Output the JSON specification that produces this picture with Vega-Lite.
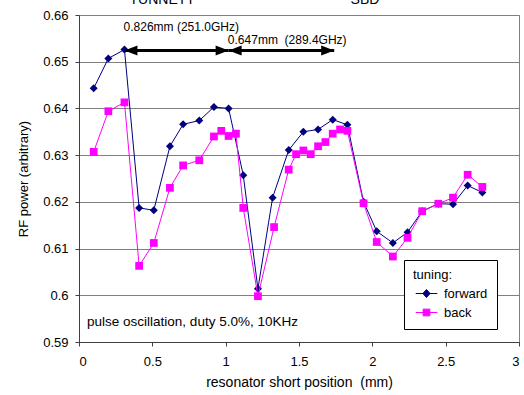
{
  "$schema": "https://vega.github.io/schema/vega-lite/v6.json",
  "autosize": "none",
  "width": 440,
  "height": 327,
  "padding": {"left": 79, "top": 15, "right": 5, "bottom": 53},
  "background": "white",
  "config": {
    "font": "Liberation Sans",
    "view": {"stroke": "#808080", "strokeWidth": 1},
    "axis": {
      "labelFont": "Liberation Sans",
      "titleFont": "Liberation Sans",
      "labelFontSize": 13,
      "titleFontSize": 13,
      "titleFontWeight": "normal",
      "labelColor": "black",
      "titleColor": "black",
      "domainColor": "#404040",
      "tickColor": "#404040",
      "tickSize": 4,
      "gridColor": "#808080",
      "gridWidth": 1,
      "gridOpacity": 1
    },
    "legend": {
      "labelFont": "Liberation Sans",
      "titleFont": "Liberation Sans",
      "title": "tuning:",
      "orient": "none",
      "legendX": 325,
      "legendY": 245,
      "padding": 9,
      "strokeColor": "black",
      "fillColor": "white",
      "titleFontSize": 13,
      "titleFontWeight": "normal",
      "titleColor": "black",
      "titlePadding": 3,
      "labelFontSize": 13,
      "labelColor": "black",
      "labelOffset": 9,
      "symbolSize": 256,
      "symbolStrokeWidth": 1,
      "symbolOffset": 5,
      "rowPadding": 3
    }
  },
  "datasets": {
    "runs": [
      {"pos": 0.10, "power": 0.6443, "tuning": "forward"},
      {"pos": 0.20, "power": 0.6507, "tuning": "forward"},
      {"pos": 0.31, "power": 0.6526, "tuning": "forward"},
      {"pos": 0.41, "power": 0.6187, "tuning": "forward"},
      {"pos": 0.51, "power": 0.6182, "tuning": "forward"},
      {"pos": 0.62, "power": 0.6319, "tuning": "forward"},
      {"pos": 0.71, "power": 0.6366, "tuning": "forward"},
      {"pos": 0.82, "power": 0.6374, "tuning": "forward"},
      {"pos": 0.92, "power": 0.6403, "tuning": "forward"},
      {"pos": 1.02, "power": 0.6400, "tuning": "forward"},
      {"pos": 1.12, "power": 0.6257, "tuning": "forward"},
      {"pos": 1.22, "power": 0.6014, "tuning": "forward"},
      {"pos": 1.32, "power": 0.6209, "tuning": "forward"},
      {"pos": 1.43, "power": 0.6311, "tuning": "forward"},
      {"pos": 1.53, "power": 0.6350, "tuning": "forward"},
      {"pos": 1.63, "power": 0.6355, "tuning": "forward"},
      {"pos": 1.73, "power": 0.6376, "tuning": "forward"},
      {"pos": 1.83, "power": 0.6365, "tuning": "forward"},
      {"pos": 1.94, "power": 0.6200, "tuning": "forward"},
      {"pos": 2.03, "power": 0.6137, "tuning": "forward"},
      {"pos": 2.14, "power": 0.6112, "tuning": "forward"},
      {"pos": 2.24, "power": 0.6135, "tuning": "forward"},
      {"pos": 2.34, "power": 0.6180, "tuning": "forward"},
      {"pos": 2.45, "power": 0.6196, "tuning": "forward"},
      {"pos": 2.55, "power": 0.6195, "tuning": "forward"},
      {"pos": 2.65, "power": 0.6235, "tuning": "forward"},
      {"pos": 2.75, "power": 0.6220, "tuning": "forward"},
      {"pos": 0.10, "power": 0.6307, "tuning": "back"},
      {"pos": 0.20, "power": 0.6394, "tuning": "back"},
      {"pos": 0.31, "power": 0.6413, "tuning": "back"},
      {"pos": 0.41, "power": 0.6063, "tuning": "back"},
      {"pos": 0.51, "power": 0.6112, "tuning": "back"},
      {"pos": 0.62, "power": 0.6230, "tuning": "back"},
      {"pos": 0.71, "power": 0.6278, "tuning": "back"},
      {"pos": 0.82, "power": 0.6289, "tuning": "back"},
      {"pos": 0.92, "power": 0.6340, "tuning": "back"},
      {"pos": 0.97, "power": 0.6352, "tuning": "back"},
      {"pos": 1.02, "power": 0.6341, "tuning": "back"},
      {"pos": 1.07, "power": 0.6346, "tuning": "back"},
      {"pos": 1.12, "power": 0.6187, "tuning": "back"},
      {"pos": 1.22, "power": 0.5998, "tuning": "back"},
      {"pos": 1.33, "power": 0.6146, "tuning": "back"},
      {"pos": 1.43, "power": 0.6269, "tuning": "back"},
      {"pos": 1.48, "power": 0.6302, "tuning": "back"},
      {"pos": 1.53, "power": 0.6310, "tuning": "back"},
      {"pos": 1.58, "power": 0.6302, "tuning": "back"},
      {"pos": 1.63, "power": 0.6319, "tuning": "back"},
      {"pos": 1.68, "power": 0.6328, "tuning": "back"},
      {"pos": 1.73, "power": 0.6346, "tuning": "back"},
      {"pos": 1.78, "power": 0.6355, "tuning": "back"},
      {"pos": 1.83, "power": 0.6352, "tuning": "back"},
      {"pos": 1.94, "power": 0.6197, "tuning": "back"},
      {"pos": 2.03, "power": 0.6114, "tuning": "back"},
      {"pos": 2.14, "power": 0.6083, "tuning": "back"},
      {"pos": 2.24, "power": 0.6123, "tuning": "back"},
      {"pos": 2.34, "power": 0.6180, "tuning": "back"},
      {"pos": 2.45, "power": 0.6196, "tuning": "back"},
      {"pos": 2.55, "power": 0.6209, "tuning": "back"},
      {"pos": 2.65, "power": 0.6258, "tuning": "back"},
      {"pos": 2.75, "power": 0.6232, "tuning": "back"}
    ],
    "spans": [
      {"start": 0.31, "end": 1.02, "level": 0.6524},
      {"start": 1.02, "end": 1.74, "level": 0.6524}
    ],
    "spacings": [
      {"pos": 0.304, "power": 0.6574, "text": "0.826mm (251.0GHz)"},
      {"pos": 1.015, "power": 0.6546, "text": "0.647mm\u00a0 (289.4GHz)"}
    ],
    "conditions": [
      {"pos": 0.055, "power": 0.5943, "text": "pulse oscillation, duty 5.0%, 10KHz"}
    ],
    "headers": [
      {"pos": 0.567, "power": 0.6623, "text": "TUNNETT"},
      {"pos": 1.95, "power": 0.6623, "text": "SBD"}
    ]
  },
  "layer": [
    {
      "description": "Tiny keyed points carrying the tuning legend (line-and-marker symbols).",
      "data": {"name": "runs"},
      "mark": {"type": "point", "filled": true, "opacity": 1, "size": 1},
      "encoding": {
        "x": {
          "field": "pos", "type": "quantitative",
          "scale": {"domain": [0, 3], "nice": false},
          "axis": {
            "values": [0, 0.5, 1, 1.5, 2, 2.5, 3],
            "format": "~g",
            "grid": false,
            "title": "resonator short position\u00a0 (mm)",
            "titleFontSize": 14,
            "labelPadding": 9,
            "titlePadding": 7
          }
        },
        "y": {
          "field": "power", "type": "quantitative",
          "scale": {"domain": [0.59, 0.66], "nice": false, "zero": false},
          "axis": {
            "values": [0.59, 0.6, 0.61, 0.62, 0.63, 0.64, 0.65, 0.66],
            "format": "~g",
            "grid": true,
            "title": "RF power (arbitrary)",
            "labelPadding": 7,
            "titlePadding": 12
          }
        },
        "fill": {
          "field": "tuning", "type": "nominal",
          "scale": {"domain": ["forward", "back"], "range": ["#000080", "#FF00FF"]},
          "legend": {"title": "tuning:"}
        },
        "stroke": {
          "field": "tuning", "type": "nominal",
          "scale": {"domain": ["forward", "back"], "range": ["#000080", "#FF00FF"]},
          "legend": {"title": "tuning:"}
        },
        "shape": {
          "field": "tuning", "type": "nominal",
          "scale": {
            "domain": ["forward", "back"],
            "range": [
              "M-1.35,0L1.35,0M-0.45,0L0,-0.5L0.45,0L0,0.5Z",
              "M-1.35,0L1.35,0M-0.42,-0.42L0.42,-0.42L0.42,0.42L-0.42,0.42Z"
            ]
          },
          "legend": {"title": "tuning:"}
        }
      }
    },
    {
      "data": {"name": "runs"},
      "transform": [{"filter": "datum.tuning === 'forward'"}],
      "mark": {"type": "line", "strokeWidth": 1, "color": "#000080"},
      "encoding": {
        "x": {"field": "pos", "type": "quantitative"},
        "y": {"field": "power", "type": "quantitative"}
      }
    },
    {
      "data": {"name": "runs"},
      "transform": [{"filter": "datum.tuning === 'forward'"}],
      "mark": {"type": "point", "shape": "diamond", "filled": true, "opacity": 1, "size": 64, "color": "#000080"},
      "encoding": {
        "x": {"field": "pos", "type": "quantitative"},
        "y": {"field": "power", "type": "quantitative"}
      }
    },
    {
      "data": {"name": "runs"},
      "transform": [{"filter": "datum.tuning === 'back'"}],
      "mark": {"type": "line", "strokeWidth": 1, "color": "#FF00FF"},
      "encoding": {
        "x": {"field": "pos", "type": "quantitative"},
        "y": {"field": "power", "type": "quantitative"}
      }
    },
    {
      "data": {"name": "runs"},
      "transform": [{"filter": "datum.tuning === 'back'"}],
      "mark": {"type": "point", "shape": "square", "filled": true, "opacity": 1, "size": 60, "color": "#FF00FF"},
      "encoding": {
        "x": {"field": "pos", "type": "quantitative"},
        "y": {"field": "power", "type": "quantitative"}
      }
    },
    {
      "data": {"name": "spans"},
      "mark": {"type": "rule", "color": "black", "strokeWidth": 3},
      "encoding": {
        "x": {"field": "start", "type": "quantitative"},
        "x2": {"field": "end"},
        "y": {"field": "level", "type": "quantitative"}
      }
    },
    {
      "data": {"name": "spans"},
      "mark": {"type": "point", "shape": "M0,0L2.6,-1L2.6,1Z", "filled": true, "color": "black", "opacity": 1, "size": 100},
      "encoding": {
        "x": {"field": "start", "type": "quantitative"},
        "y": {"field": "level", "type": "quantitative"}
      }
    },
    {
      "data": {"name": "spans"},
      "mark": {"type": "point", "shape": "M0,0L-2.6,-1L-2.6,1Z", "filled": true, "color": "black", "opacity": 1, "size": 100},
      "encoding": {
        "x": {"field": "end", "type": "quantitative"},
        "y": {"field": "level", "type": "quantitative"}
      }
    },
    {
      "data": {"name": "spacings"},
      "mark": {"type": "text", "align": "left", "baseline": "middle", "color": "black", "font": "Liberation Sans", "fontSize": 12},
      "encoding": {
        "x": {"field": "pos", "type": "quantitative"},
        "y": {"field": "power", "type": "quantitative"},
        "text": {"field": "text"}
      }
    },
    {
      "data": {"name": "conditions"},
      "mark": {"type": "text", "align": "left", "baseline": "middle", "color": "black", "font": "Liberation Sans", "fontSize": 13.5},
      "encoding": {
        "x": {"field": "pos", "type": "quantitative"},
        "y": {"field": "power", "type": "quantitative"},
        "text": {"field": "text"}
      }
    },
    {
      "data": {"name": "headers"},
      "mark": {"type": "text", "align": "center", "baseline": "alphabetic", "color": "black", "fontSize": 14, "font": "Liberation Sans"},
      "encoding": {
        "x": {"field": "pos", "type": "quantitative"},
        "y": {"field": "power", "type": "quantitative"},
        "text": {"field": "text"}
      }
    }
  ]
}
